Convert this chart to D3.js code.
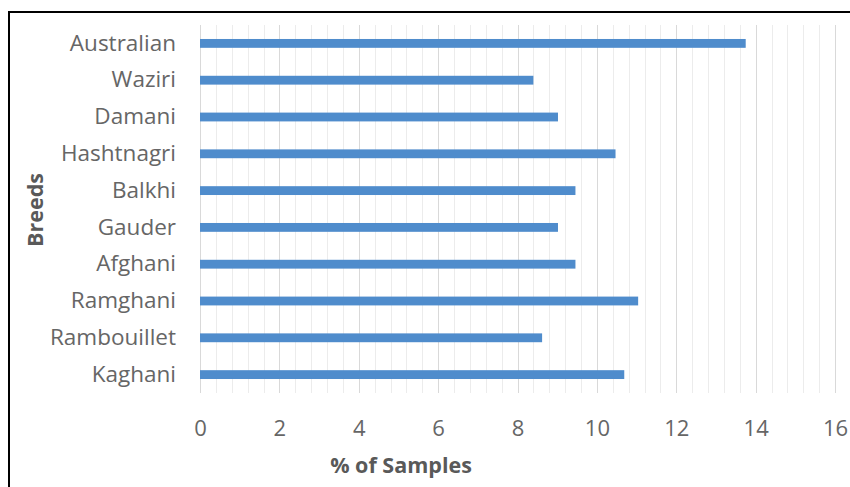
<!DOCTYPE html>
<html><head><meta charset="utf-8">
<script src="https://cdn.jsdelivr.net/npm/d3@7"></script>
<style>body{margin:0;background:#fff;}svg{display:block;}</style>
</head><body>
<script>
const categories = ["Australian","Waziri","Damani","Hashtnagri","Balkhi","Gauder","Afghani","Ramghani","Rambouillet","Kaghani"];
const values = [13.75, 8.4, 9.02, 10.47, 9.46, 9.02, 9.46, 11.04, 8.62, 10.69];
const xTicks = [0,2,4,6,8,10,12,14,16];
const xTitle = "% of Samples";
const yTitle = "Breeds";

(function () {
const W = 850, H = 487;
const svg = d3.select("body").append("svg").attr("width", W).attr("height", H);
const font = "'Open Sans', sans-serif";

svg.append("rect").attr("x", 9).attr("y", 12).attr("width", W + 10).attr("height", H + 10)
  .attr("fill", "none").attr("stroke", "#000").attr("stroke-width", 2);

const pLeft = 200, pRight = 835, pTop = 25, pBottom = 393;
const x = d3.scaleLinear().domain([0, 16]).range([pLeft, pRight]);
const y = d3.scaleBand().domain(categories).range([pTop, pBottom]).paddingInner(0.76).paddingOuter(0.38);

const minor = d3.range(0, 16.001, 0.4).filter(v => Math.abs(v / 2 - Math.round(v / 2)) > 1e-6);
svg.append("g").selectAll("line").data(minor).join("line")
  .attr("x1", d => Math.round(x(d)) + 0.5).attr("x2", d => Math.round(x(d)) + 0.5)
  .attr("y1", pTop).attr("y2", pBottom).attr("stroke", "#ececec").attr("stroke-width", 1);
svg.append("g").selectAll("line").data(xTicks).join("line")
  .attr("x1", d => Math.round(x(d)) + 0.5).attr("x2", d => Math.round(x(d)) + 0.5)
  .attr("y1", pTop).attr("y2", pBottom).attr("stroke", "#d9d9d9").attr("stroke-width", 1);

svg.append("g").selectAll("rect").data(categories).join("rect")
  .attr("x", x(0)).attr("y", d => y(d))
  .attr("width", (d, i) => x(values[i]) - x(0)).attr("height", y.bandwidth())
  .attr("fill", "#4f8ccc");

const xa = svg.append("g").attr("transform", `translate(0,${pBottom})`)
  .call(d3.axisBottom(x).tickValues(xTicks).tickSize(0).tickPadding(27).tickFormat(d3.format("d")));
xa.select(".domain").remove();
xa.selectAll("text").attr("font-family", font).attr("font-size", 22).attr("fill", "#666");

const ya = svg.append("g").attr("transform", `translate(${pLeft},0)`)
  .call(d3.axisLeft(y).tickSize(0).tickPadding(24));
ya.select(".domain").remove();
ya.selectAll("text").attr("font-family", font).attr("font-size", 22.5).attr("fill", "#666");

svg.append("text").attr("x", 401).attr("y", 473).attr("text-anchor", "middle")
  .attr("font-family", font).attr("font-size", 21.5).attr("font-weight", "bold").attr("fill", "#595959")
  .text(xTitle);
svg.append("text").attr("transform", "translate(43,210) rotate(-90)").attr("text-anchor", "middle")
  .attr("font-family", font).attr("font-size", 21.5).attr("font-weight", "bold").attr("fill", "#595959")
  .text(yTitle);
})();
</script>
</body></html>
